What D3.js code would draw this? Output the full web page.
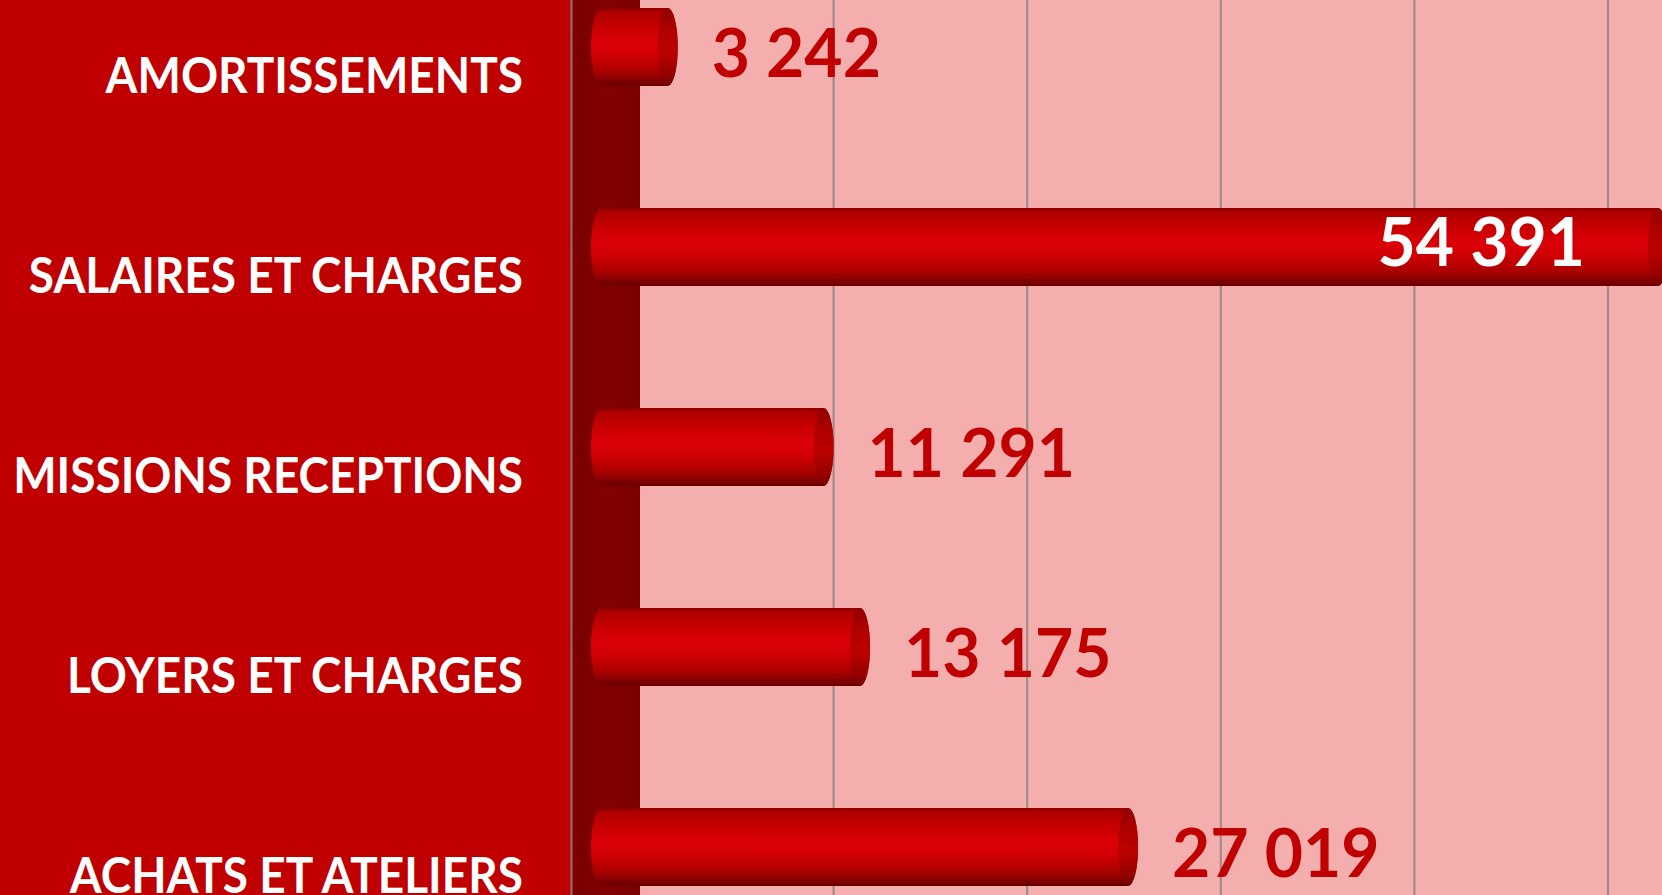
<!DOCTYPE html>
<html>
<head>
<meta charset="utf-8">
<script src="https://cdn.jsdelivr.net/npm/d3@7"></script>
<style>
  html, body { margin: 0; padding: 0; background: #F4AEAE; overflow: hidden; }
  svg { display: block; }
</style>
</head>
<body>
<div id="chartContainer"></div>
<script>
var categories = ['AMORTISSEMENTS', 'SALAIRES ET CHARGES', 'MISSIONS RECEPTIONS', 'LOYERS ET CHARGES', 'ACHATS ET ATELIERS'];
var values = [3242, 54391, 11291, 13175, 27019];
var gridTicks = [10000, 20000, 30000, 40000, 50000];

var W = 1662, H = 895;
var svg = d3.select('#chartContainer').append('svg')
  .attr('width', W).attr('height', H);

var fmt = d3.formatLocale({ decimal: ',', thousands: ' ', grouping: [3], currency: ['', ' €'] }).format(',d');

var x = d3.scaleLinear().domain([0, 50000]).range([640, 1608]);
var y = d3.scaleBand().domain(categories).range([-53, 947]).paddingInner(0.61).paddingOuter(0.305);

var depth = 25, rx = 10;

var defs = svg.append('defs');
var g1 = defs.append('linearGradient').attr('id', 'cyl').attr('x1', 0).attr('y1', 0).attr('x2', 0).attr('y2', 1);
[[0, '#8A0000'], [0.05, '#AE0000'], [0.2, '#C20000'], [0.45, '#DC0008'], [0.62, '#CE0004'], [0.82, '#A80000'], [1, '#6A0000']]
  .forEach(function(s){ g1.append('stop').attr('offset', s[0]).attr('stop-color', s[1]) });
var g2 = defs.append('linearGradient').attr('id', 'cap').attr('x1', 0).attr('y1', 0).attr('x2', 0).attr('y2', 1);
[[0, '#900000'], [0.3, '#B00000'], [0.55, '#BC0000'], [0.85, '#960000'], [1, '#700000']]
  .forEach(function(s){ g2.append('stop').attr('offset', s[0]).attr('stop-color', s[1]) });
var g3 = defs.append('linearGradient').attr('id', 'wall').attr('x1', 0).attr('y1', 0).attr('x2', 1).attr('y2', 0);
[[0, '#7A0000'], [0.5, '#820000'], [1, '#7C0000']]
  .forEach(function(s){ g3.append('stop').attr('offset', s[0]).attr('stop-color', s[1]) });

// background + left panel
svg.append('rect').attr('x', 0).attr('y', 0).attr('width', W).attr('height', H).attr('fill', '#F4AEAE');
svg.append('rect').attr('x', 0).attr('y', 0).attr('width', 571).attr('height', H).attr('fill', '#C00000');

// gridlines
svg.append('g').selectAll('line').data(gridTicks).join('line')
  .attr('x1', function(d){ return x(d) }).attr('x2', function(d){ return x(d) })
  .attr('y1', 0).attr('y2', H)
  .attr('stroke', '#9C8686').attr('stroke-width', 2);

// side wall
svg.append('rect').attr('x', 572).attr('y', 0).attr('width', x(0) - 572).attr('height', H).attr('fill', 'url(#wall)');
svg.append('line').attr('x1', 571.5).attr('x2', 571.5).attr('y1', 0).attr('y2', H)
  .attr('stroke', '#8E7474').attr('stroke-width', 2);

// bars
var bars = svg.append('g').selectAll('g').data(categories).join('g');
bars.append('path')
  .attr('d', function(d, i){
    var top = y(d), bot = y(d) + y.bandwidth(), ry = y.bandwidth() / 2;
    var xs = x(0) - depth - 24 + rx, xe = x(values[i]) - depth - rx;
    return 'M' + xs + ',' + top + 'H' + xe + 'A' + rx + ',' + ry + ' 0 0 1 ' + xe + ',' + bot +
           'H' + xs + 'A' + rx + ',' + ry + ' 0 0 1 ' + xs + ',' + top + 'Z';
  })
  .attr('fill', 'url(#cyl)');
bars.append('ellipse')
  .attr('cx', function(d, i){ return x(values[i]) - depth - rx })
  .attr('cy', function(d){ return y(d) + y.bandwidth() / 2 })
  .attr('rx', rx).attr('ry', y.bandwidth() / 2)
  .attr('fill', 'url(#cap)');

// category labels (Lato is wider than the original font, squeeze it a bit)
svg.append('g').selectAll('text').data(categories).join('text')
  .attr('transform', function(d){ return 'translate(523,' + (y(d) + y.bandwidth() / 2 + 46) + ') scale(0.92,1)' })
  .attr('text-anchor', 'end')
  .style('font-family', 'Lato, "Open Sans", sans-serif')
  .style('font-weight', 'bold')
  .style('font-size', '50px')
  .attr('fill', '#FFFFFF')
  .text(function(d){ return d });

// value labels
var vl = svg.append('g').selectAll('text').data(categories).join('text')
  .style('font-family', 'Lato, "Open Sans", sans-serif')
  .style('font-weight', 'bold')
  .style('font-size', '66px')
  .text(function(d, i){ return fmt(values[i]) });
vl.each(function(d, i){
  var t = d3.select(this), w = this.getComputedTextLength();
  var xe = x(values[i]) - depth, cy = y(d) + y.bandwidth() / 2;
  if (xe + 34 + w > W) {
    t.attr('x', xe - 83).attr('y', cy + 19).attr('text-anchor', 'end').attr('fill', '#FFFFFF');
  } else {
    t.attr('x', xe + 34).attr('y', cy + 30).attr('text-anchor', 'start').attr('fill', '#C00000');
  }
});
</script>
</body>
</html>
